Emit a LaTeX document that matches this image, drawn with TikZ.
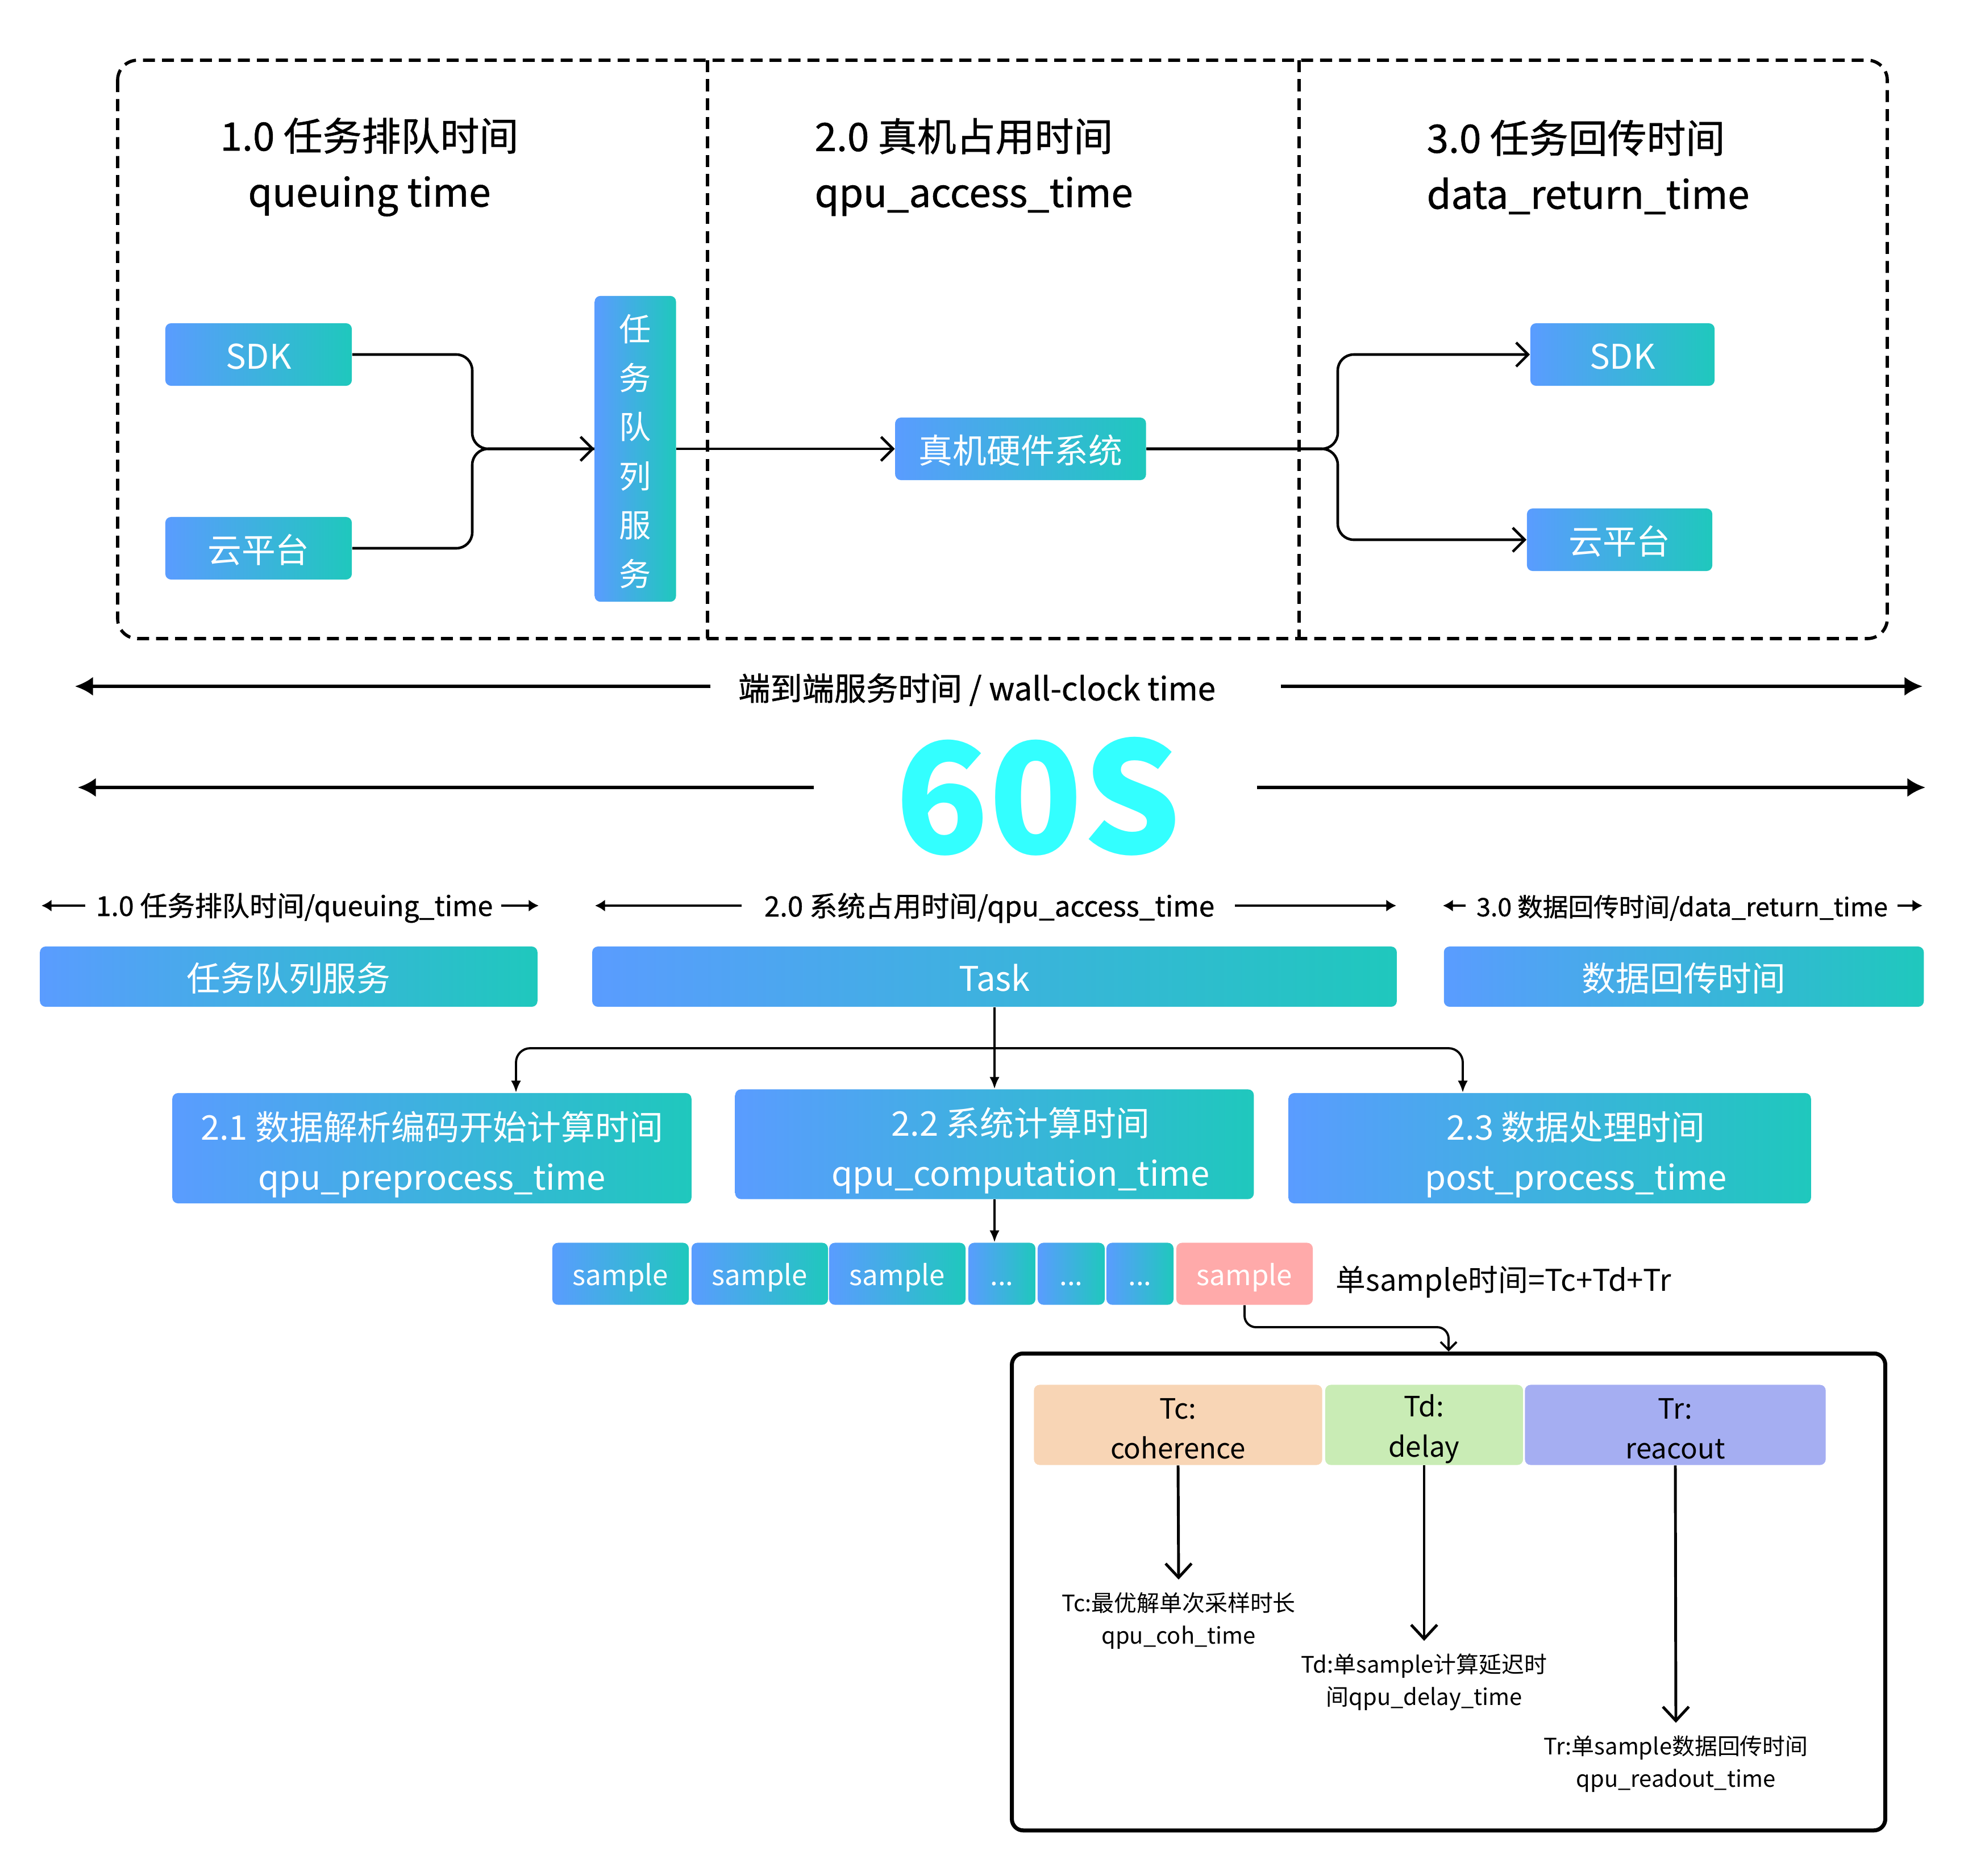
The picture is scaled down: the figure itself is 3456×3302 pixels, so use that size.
\documentclass[tikz,border=0pt]{standalone}
\usepackage{fontspec}
\setmainfont{Noto Sans CJK SC}
\newfontfamily\medfont{Noto Sans CJK SC}[FakeBold=0.8]
\usetikzlibrary{arrows.meta}
\definecolor{gL}{HTML}{5A9CFF}
\definecolor{gR}{HTML}{1FC8BD}
\definecolor{cyanS}{HTML}{33FFFF}
\definecolor{pinkS}{HTML}{FFAAAA}
\definecolor{peach}{HTML}{F8D5B5}
\definecolor{lgreen}{HTML}{C9ECB5}
\definecolor{lviolet}{HTML}{A5AEF2}
\tikzset{
  gbox/.style={rounded corners=0.1cm, left color=gL, right color=gR, draw=none, text=white, inner sep=0pt, align=center},
  gsev/.style={gbox, font=\fontsize{17}{20}\selectfont, text height=16pt, text depth=1.7pt},
  gtxt/.style={text=white, align=center, inner sep=0pt},
  pbox/.style={rounded corners=0.1cm, fill=#1, draw=none, inner sep=0pt},
  ptxt/.style={text=black, align=center, inner sep=0pt, font=\fontsize{14}{20}\selectfont, yshift=-0.07cm},
  dashbox/.style={draw=black, line width=1.6pt, dash pattern=on 6pt off 3.5pt},
  conn/.style={draw=black, line width=1.3pt},
  chev/.style={-{Straight Barb[length=6pt,width=12pt]}},
  bigarr/.style={draw=black, line width=1.5pt, -{Latex[length=9pt,width=9.5pt]}},
  smarr/.style={draw=black, line width=1.2pt, -{Latex[length=5pt,width=6pt]}},
  tarr/.style={draw=black, line width=1.1pt, -{Latex[length=6pt,width=5pt]}},
  barr/.style={draw=black, line width=1.4pt, -{Straight Barb[length=7pt,width=13pt]}},
  titletext/.style={font=\fontsize{19.6}{28}\medfont, inner sep=0pt},
  lbl/.style={inner sep=0pt},
  note/.style={font=\fontsize{11.35}{16.3}\selectfont, align=center, inner sep=0.22cm},
  sbox/.style={gbox, minimum height=1.09cm, font=\fontsize{14}{16}\selectfont, text height=13.2pt, text depth=1.4pt},
}
\begin{document}
\begin{tikzpicture}[x=0.01cm,y=-0.01cm]
\useasboundingbox (0,0) rectangle (3456,3302);
% ---------- top dashed frame ----------
\draw[dashbox, rounded corners=0.35cm] (207,106) rectangle (3321,1124);
\draw[dashbox] (1245,106) -- (1245,1124);
\draw[dashbox] (2286,106) -- (2286,1124);
% titles
\node[titletext, align=center] (t1) at (650,294) {1.0 任务排队时间\\queuing time};
\node[titletext, align=left, anchor=west] (t2) at (1433,294) {2.0 真机占用时间\\qpu\_access\_time};
\node[titletext, align=left, anchor=west] (t3) at (2510,294) {3.0 任务回传时间\\data\_return\_time};
% top boxes
\node[gsev, minimum width=3.28cm, minimum height=1.1cm] (sdkL) at (455,624) {SDK};
\node[gsev, minimum width=3.28cm, minimum height=1.1cm] (cloudL) at (455,965) {云平台};
\node[gbox, minimum width=1.43cm, minimum height=5.38cm,
      label={[gtxt, font=\fontsize{16}{24.5}\selectfont, yshift=-0.045cm]center:{任\\务\\队\\列\\服\\务}}] (queue) at (1118,790) {};
\node[gsev, minimum width=4.41cm, minimum height=1.1cm] (hw) at (1796,790) {真机硬件系统};
\node[gsev, minimum width=3.24cm, minimum height=1.1cm] (sdkR) at (2855,624) {SDK};
\node[gsev, minimum width=3.26cm, minimum height=1.1cm] (cloudR) at (2850,950) {云平台};
\coordinate (jL) at (831,790);
\coordinate (jR1) at (2354,624);
\coordinate (jR2) at (2354,950);
\draw[conn, chev, rounded corners=0.28cm] (sdkL.east) -| (jL) -- (queue.west);
\draw[conn, rounded corners=0.28cm] (cloudL.east) -| (jL) -- (queue.west);
\draw[conn, chev] (queue.east) -- (hw.west);
\draw[conn, chev, rounded corners=0.28cm] (hw.east) -| (jR1) -- (sdkR.west);
\draw[conn, chev, rounded corners=0.28cm] (hw.east) -| (jR2) -- (cloudR.west);
% ---------- wall-clock ----------
\node[font=\fontsize{16}{18}\medfont, inner sep=0pt] (wc) at (1719,1214) {端到端服务时间 / wall-clock time};
\coordinate (wcL) at (132,1208);
\coordinate (wcR) at (3383,1208);
\draw[bigarr] ([xshift=-0.48cm]wc.west |- wcL) -- (wcL);
\draw[bigarr] ([xshift=1.14cm]wc.east |- wcR) -- (wcR);
% ---------- 60S ----------
\node[font=\fontsize{77}{77}\selectfont\bfseries, text=cyanS, inner sep=0pt] (big) at (1827,1402) {60S};
\coordinate (bgL) at (137,1386);
\coordinate (bgR) at (3388,1386);
\draw[bigarr] ([xshift=-1.43cm]big.west |- bgL) -- (bgL);
\draw[bigarr] ([xshift=1.33cm]big.east |- bgR) -- (bgR);
% ---------- phase labels ----------
\node[lbl, font=\fontsize{13.7}{16}\medfont] (l1) at (518,1598) {1.0 任务排队时间/queuing\_time};
\node[lbl, font=\fontsize{14}{16}\medfont] (l2) at (1741,1598) {2.0 系统占用时间/qpu\_access\_time};
\node[lbl, font=\fontsize{12.7}{16}\medfont] (l3) at (2960,1598) {3.0 数据回传时间/data\_return\_time};
\coordinate (l1a) at (73,1594);  \coordinate (l1b) at (948,1594);
\coordinate (l2a) at (1047,1594); \coordinate (l2b) at (2457,1594);
\coordinate (l3a) at (2539,1594); \coordinate (l3b) at (3383,1594);
\draw[smarr] (150,1594) -- (l1a);
\draw[smarr] (882,1594) -- (l1b);
\draw[smarr] (1305,1594) -- (l2a);
\draw[smarr] (2173,1594) -- (l2b);
\draw[smarr] (2579,1594) -- (l3a);
\draw[smarr] (3339,1594) -- (l3b);
% ---------- phase boxes ----------
\node[gsev, minimum width=8.75cm, minimum height=1.06cm] (qs) at (508,1719) {任务队列服务};
\node[gsev, minimum width=14.15cm, minimum height=1.06cm] (task) at (1750,1719) {Task};
\node[gsev, minimum width=8.44cm, minimum height=1.06cm] (dr) at (2963,1719) {数据回传时间};
% ---------- sub-phase boxes ----------
\node[gbox, minimum width=9.13cm, minimum height=1.94cm,
      label={[gtxt, font=\fontsize{17}{25}\selectfont, yshift=-0.11cm]center:{2.1 数据解析编码开始计算时间\\qpu\_preprocess\_time}}] (b21) at (760,2021) {};
\node[gbox, minimum width=9.12cm, minimum height=1.93cm,
      label={[gtxt, font=\fontsize{17}{25}\selectfont, xshift=0.46cm, yshift=-0.11cm]center:{2.2 系统计算时间\\qpu\_computation\_time}}] (b22) at (1750,2014) {};
\node[gbox, minimum width=9.19cm, minimum height=1.94cm,
      label={[gtxt, font=\fontsize{17}{25}\selectfont, xshift=0.46cm, yshift=-0.11cm]center:{2.3 数据处理时间\\post\_process\_time}}] (b23) at (2727,2021) {};
\coordinate (jt1) at (908,1845);
\coordinate (jt2) at (2574,1845);
\draw[tarr] (task.south) -- (b22.north);
\draw[tarr, rounded corners=0.25cm] (task.south |- jt1) -| (b21.north -| jt1);
\draw[tarr, rounded corners=0.25cm] (task.south |- jt2) -| (b23.north -| jt2);
% ---------- samples ----------
\node[sbox, minimum width=2.40cm] (s1) at (1092,2242) {sample};
\node[sbox, minimum width=2.40cm] (s2) at (1337,2242) {sample};
\node[sbox, minimum width=2.40cm] (s3) at (1579,2242) {sample};
\node[sbox, minimum width=1.18cm] (d1) at (1763,2242) {...};
\node[sbox, minimum width=1.18cm] (d2) at (1885,2242) {...};
\node[sbox, minimum width=1.18cm] (d3) at (2006,2242) {...};
\node[sbox, left color=pinkS, right color=pinkS, minimum width=2.40cm] (sp) at (2190,2242) {sample};
\node[font=\fontsize{15}{18}\selectfont, inner sep=0pt, anchor=west] (formula) at (2350,2256) {单sample时间=Tc+Td+Tr};
\draw[tarr] (b22.south) -- (b22.south |- d1.north);
% ---------- detail box ----------
\node[draw=black, line width=2pt, rounded corners=0.2cm, minimum width=15.36cm, minimum height=8.39cm, inner sep=0pt] (detail) at (2549,2802) {};
\coordinate (jp) at (2549,2336);
\draw[draw=black, line width=1.1pt, -{Straight Barb[length=4pt,width=8pt]}, rounded corners=0.2cm] (sp.south) |- (jp) -- (detail.north);
\node[pbox=peach, minimum width=5.07cm, minimum height=1.41cm, label={[ptxt]center:{Tc:\\coherence}}] (tc) at (2073,2508) {};
\node[pbox=lgreen, minimum width=3.48cm, minimum height=1.41cm, label={[ptxt]center:{Td:\\delay}}] (td) at (2506,2508) {};
\node[pbox=lviolet, minimum width=5.29cm, minimum height=1.41cm, label={[ptxt]center:{Tr:\\reacout}}] (tr) at (2948,2508) {};
\node[note] (ntc) at (2074,2853) {Tc:最优解单次采样时长\\qpu\_coh\_time};
\node[note] (ntd) at (2506,2961) {Td:单sample计算延迟时\\间qpu\_delay\_time};
\node[note] (ntr) at (2949,3105) {Tr:单sample数据回传时间\\qpu\_readout\_time};
\draw[barr] (tc.south) -- (ntc.north);
\draw[barr] (td.south) -- (ntd.north);
\draw[barr] (tr.south) -- (ntr.north);
\end{tikzpicture}
\end{document}
